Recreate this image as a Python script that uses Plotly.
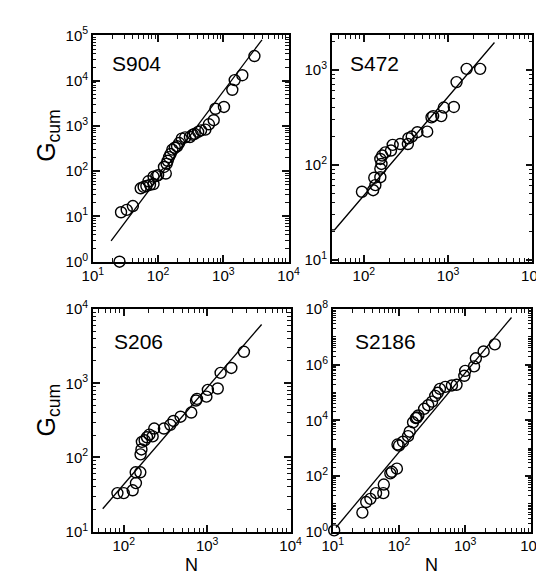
import plotly.graph_objects as go

W, H = 544, 577
FONT = "Liberation Sans, Arial, Helvetica, sans-serif"
TICKC = "#111111"

# ---------------- data ----------------
s904_n = [25.6, 27, 33, 41, 54, 60, 66, 71, 75, 85, 85, 94, 100, 131, 123, 135, 140, 147,
          155, 165, 180, 195, 210, 230, 260, 307, 340, 363, 410, 455, 530, 600, 710, 755,
          1020, 1370, 1490, 1950, 2990]
s904_g = [1, 12.4, 14, 17, 42, 45, 47, 60, 50, 52, 76, 78, 82, 89, 124, 145, 170, 205,
          240, 300, 330, 355, 420, 525, 560, 570, 640, 670, 740, 800, 830, 1090, 1340, 2400,
          2630, 6300, 10300, 13200, 35000]
s904_line_n = [19, 3900]
s904_line_g = [2.9, 80000]

s472_n = [95, 129, 137, 133, 157, 157, 162, 157, 165, 180, 210, 220, 270, 333, 338, 370,
          432, 565, 635, 665, 830, 890, 1170, 1260, 1660, 2400]
s472_g = [52, 54, 61, 73, 74, 91, 102, 115, 125, 135, 141, 162, 165, 165, 190, 198,
          220, 223, 315, 325, 325, 400, 405, 740, 1020, 1020]
s472_line_n = [41.7, 45, 3550]
s472_line_g = [20.7, 20.7, 1930]

s206_n = [84, 100, 128, 140, 139, 158, 159, 163, 165, 178, 190, 203, 222, 232, 303, 362,
          395, 480, 645, 735, 755, 980, 1020, 1340, 1450, 1950, 2760]
s206_g = [33, 33, 36, 45, 63, 63, 110, 128, 162, 170, 187, 203, 192, 245, 245, 275,
          310, 354, 403, 585, 615, 660, 815, 850, 1380, 1610, 2660]
s206_line_n = [56, 4500]
s206_line_g = [20.3, 6200]

s2186_n = [10.5, 28, 32, 37, 45, 58, 59, 74, 78, 93, 95, 100, 115, 137, 145, 163, 180, 186,
           196, 240, 276, 316, 353, 385, 415, 500, 630, 740, 970, 1000, 1360, 1450, 1900, 2800]
s2186_g = [1.1, 4.8, 11.5, 15, 24, 24, 49, 124, 141, 183, 1350, 1230, 1700, 2700, 3900, 8500,
           12000, 12600, 15000, 26000, 35000, 47000, 76000, 98000, 135000, 160000, 180000,
           190000, 400000, 600000, 870000, 1700000, 3000000, 5400000]
s2186_line_n = [11.2, 5000]
s2186_line_g = [1.4, 5.0e7]

x_ticks_all = [10, 100, 1000, 10000]
x_ticktext_all = ["10<sup>1</sup>", "10<sup>2</sup>", "10<sup>3</sup>", "10<sup>4</sup>"]

panels = [
    dict(label="S904", n=s904_n, g=s904_g, ln=s904_line_n, lg=s904_line_g,
         box=(77, 281, 17, 251), xr=(1, 4), yr=(0, 5),
         yt=[1, 10, 100, 1000, 10000, 100000],
         ytt=["10<sup>0</sup>", "10<sup>1</sup>", "10<sup>2</sup>", "10<sup>3</sup>",
              "10<sup>4</sup>", "10<sup>5</sup>"],
         lab=(95, 46)),
    dict(label="S472", n=s472_n, g=s472_g, ln=s472_line_n, lg=s472_line_g,
         box=(326, 535, 17, 251), xr=(1.62, 4.0), yr=(0.98, 3.36),
         yt=[10, 100, 1000],
         ytt=["10<sup>1</sup>", "10<sup>2</sup>", "10<sup>3</sup>"],
         lab=(343, 46)),
    dict(label="S206", n=s206_n, g=s206_g, ln=s206_line_n, lg=s206_line_g,
         box=(77, 283, 300, 530), xr=(1.63, 4.0), yr=(1, 4),
         yt=[10, 100, 1000, 10000],
         ytt=["10<sup>1</sup>", "10<sup>2</sup>", "10<sup>3</sup>", "10<sup>4</sup>"],
         lab=(97, 333)),
    dict(label="S2186", n=s2186_n, g=s2186_g, ln=s2186_line_n, lg=s2186_line_g,
         box=(327, 534, 300, 530), xr=(1, 4), yr=(0, 8),
         yt=[1, 100, 1e4, 1e6, 1e8],
         ytt=["10<sup>0</sup>", "10<sup>2</sup>", "10<sup>4</sup>", "10<sup>6</sup>",
              "10<sup>8</sup>"],
         lab=(348, 333)),
]

minor_vals = [k * 10.0 ** e for e in range(-1, 9) for k in range(2, 10)]
minor_vals_y4 = [10.0 ** e for e in range(1, 9, 2)] + minor_vals

fig = go.Figure()
annotations = []
layout_axes = {}
NP = len(panels)
for i, p in enumerate(panels, start=1):
    xa = "x" if i == 1 else f"x{i}"
    ya = "y" if i == 1 else f"y{i}"
    xm, ym = f"x{i + NP}", f"y{i + NP}"
    fig.add_trace(go.Scatter(x=p["ln"], y=p["lg"], mode="lines",
                             line=dict(color="black", width=1.3),
                             xaxis=xa, yaxis=ya, showlegend=False, hoverinfo="skip"))
    fig.add_trace(go.Scatter(x=p["n"], y=p["g"], mode="markers",
                             marker=dict(symbol="circle-open", size=11, color="black",
                                         line=dict(width=1.4, color="black")),
                             xaxis=xa, yaxis=ya, showlegend=False, cliponaxis=False))
    fig.add_trace(go.Scatter(x=[], y=[], xaxis=xm, yaxis=ym, showlegend=False,
                             hoverinfo="skip"))
    x0, x1, y0, y1 = p["box"]
    xdom = [x0 / W, x1 / W]
    ydom = [1 - y1 / H, 1 - y0 / H]
    common = dict(type="log", showline=True, linecolor="black", linewidth=1.5,
                  mirror="allticks", ticks="inside", ticklen=7, tickwidth=1.6,
                  tickcolor=TICKC, showgrid=False, zeroline=False,
                  tickfont=dict(family=FONT, size=15, color="black"),
                  tickmode="array")
    minor_common = dict(type="log", showline=False, mirror="allticks", ticks="inside",
                        ticklen=3.5, tickwidth=1.2, tickcolor=TICKC, showgrid=False,
                        zeroline=False, showticklabels=False, tickmode="array")
    xkey = "xaxis" if i == 1 else f"xaxis{i}"
    ykey = "yaxis" if i == 1 else f"yaxis{i}"
    layout_axes[xkey] = dict(common, domain=xdom, range=list(p["xr"]), anchor=ya,
                             tickvals=x_ticks_all, ticktext=x_ticktext_all)
    layout_axes[ykey] = dict(common, domain=ydom, range=list(p["yr"]), anchor=xa,
                             tickvals=p["yt"], ticktext=p["ytt"])
    layout_axes[f"xaxis{i + NP}"] = dict(minor_common, domain=xdom, range=list(p["xr"]),
                                         anchor=ym, overlaying=xa, tickvals=minor_vals)
    layout_axes[f"yaxis{i + NP}"] = dict(minor_common, domain=ydom, range=list(p["yr"]),
                                         anchor=xm, overlaying=ya,
                                         tickvals=(minor_vals_y4 if i == 4 else minor_vals))
    lx, ly = p["lab"]
    annotations.append(dict(text=p["label"], x=lx / W, y=1 - ly / H, xref="paper",
                            yref="paper", xanchor="left", yanchor="middle",
                            showarrow=False, font=dict(family=FONT, size=21, color="black")))

for (cx, cy) in [(30, 120), (30, 404)]:
    annotations.append(dict(text="G<sub>cum</sub>", x=cx / W, y=1 - cy / H, xref="paper",
                            yref="paper", xanchor="center", yanchor="middle", textangle=-90,
                            showarrow=False, font=dict(family=FONT, size=25, color="black")))
for cx in (180, 430):
    annotations.append(dict(text="N", x=cx / W, y=1 - 565 / H, xref="paper", yref="paper",
                            xanchor="center", yanchor="middle", showarrow=False,
                            font=dict(family=FONT, size=18, color="black")))

fig.update_layout(width=W, height=H, margin=dict(l=0, r=0, t=0, b=0),
                  paper_bgcolor="white", plot_bgcolor="rgba(0,0,0,0)",
                  annotations=annotations, font=dict(family=FONT, color="black"),
                  **layout_axes)

fig.write_html("out.html")
